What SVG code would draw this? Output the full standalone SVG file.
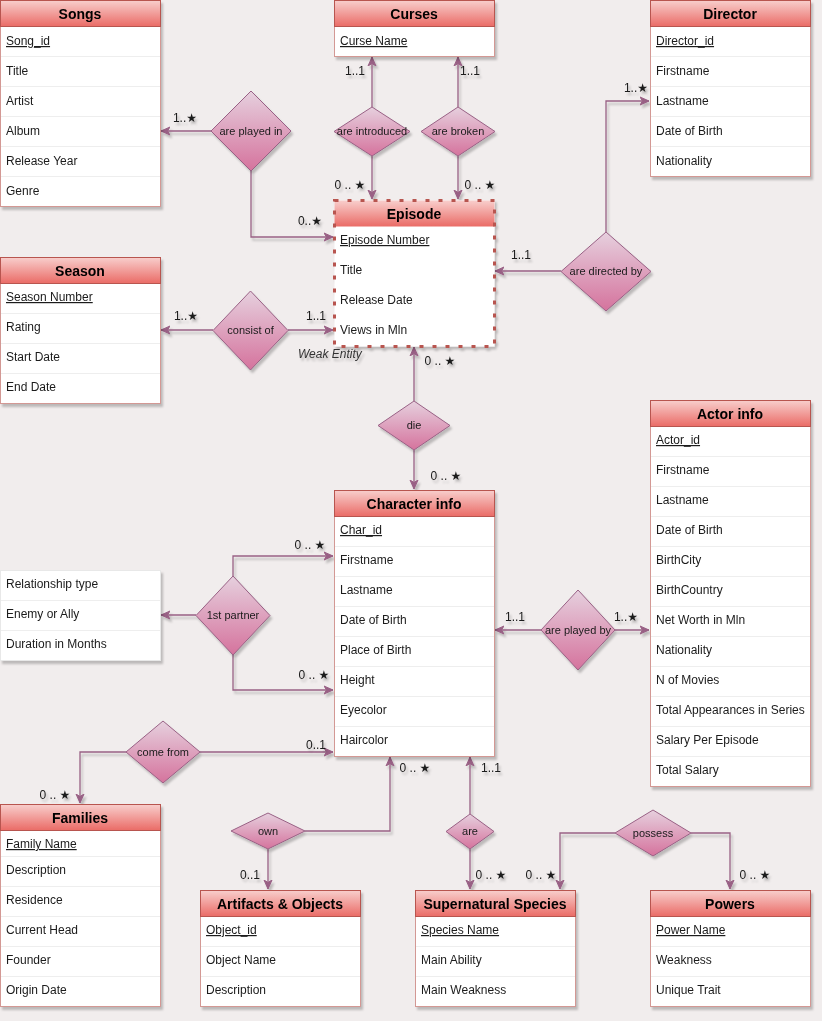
<svg xmlns="http://www.w3.org/2000/svg" width="822" height="1021" viewBox="0 0 822 1021">
<defs>
<linearGradient id="hg" x1="0" y1="0" x2="0" y2="1"><stop offset="0" stop-color="#f8cecc"/><stop offset="1" stop-color="#ea6b66"/></linearGradient>
<linearGradient id="dg" x1="0" y1="0" x2="0" y2="1"><stop offset="0" stop-color="#e6d0de"/><stop offset="1" stop-color="#d5739d"/></linearGradient>
<filter id="sh" x="-10%" y="-10%" width="130%" height="130%"><feDropShadow dx="2" dy="3" stdDeviation="1.3" flood-color="#000" flood-opacity="0.22"/></filter>
<marker id="ar" markerUnits="userSpaceOnUse" markerWidth="10" markerHeight="10" refX="9" refY="5" orient="auto"><path d="M0,1 L9,5 L0,9 L2.5,5 Z" fill="#996185" stroke="#996185" stroke-width="1"/></marker>
</defs>
<style>
.body{fill:#ffffff;stroke:#d39894;stroke-width:1}
.hdr{fill:url(#hg);stroke:#b85450;stroke-width:1}
.ht{font-family:"Liberation Sans",Arial,sans-serif;font-size:14px;font-weight:bold;fill:#000;text-anchor:middle}
.at{font-family:"Liberation Sans",Arial,sans-serif;font-size:12px;fill:#1a1a1a}
.pk{text-decoration:underline}
.sep{stroke:#eeeeee;stroke-width:1}
.dia{fill:url(#dg);stroke:#996185;stroke-width:1}
.dt{font-family:"Liberation Sans",Arial,sans-serif;font-size:11px;fill:#1a1a1a;text-anchor:middle}
.cn{fill:none;stroke:#996185;stroke-width:1.3;marker-end:url(#ar)}
.lb{font-family:"Liberation Sans","DejaVu Sans",Arial,sans-serif;font-size:12px;fill:#1a1a1a;text-anchor:middle}
.it{font-family:"Liberation Sans",Arial,sans-serif;font-size:12px;font-style:italic;fill:#333}
</style>
<rect x="0" y="0" width="822" height="1021" fill="#f1eded"/>

<g id="connectors" filter="url(#sh)">
<path class="cn" d="M211,131 L161,131"/>
<path class="cn" d="M251,171 L251,237 L333,237"/>
<path class="cn" d="M372,107 L372,57"/>
<path class="cn" d="M372,156 L372,199"/>
<path class="cn" d="M458,107 L458,57"/>
<path class="cn" d="M458,156 L458,199"/>
<path class="cn" d="M561,271 L495,271"/>
<path class="cn" d="M606,232 L606,101 L649,101"/>
<path class="cn" d="M213,330 L161,330"/>
<path class="cn" d="M288,330 L333,330"/>
<path class="cn" d="M414,401 L414,347"/>
<path class="cn" d="M414,450 L414,489"/>
<path class="cn" d="M233,576 L233,556 L333,556"/>
<path class="cn" d="M233,655 L233,690 L333,690"/>
<path class="cn" d="M196,615 L161,615"/>
<path class="cn" d="M541,630 L495,630"/>
<path class="cn" d="M615,630 L649,630"/>
<path class="cn" d="M200,752 L333,752"/>
<path class="cn" d="M126,752 L80,752 L80,803"/>
<path class="cn" d="M305,831 L390,831 L390,757"/>
<path class="cn" d="M268,849 L268,889"/>
<path class="cn" d="M470,814 L470,757"/>
<path class="cn" d="M470,849 L470,889"/>
<path class="cn" d="M615,833 L560,833 L560,889"/>
<path class="cn" d="M691,833 L730,833 L730,889"/>
</g>

<g id="songs" filter="url(#sh)">
<rect class="body" x="0.5" y="0.5" width="160" height="206"/>
<rect class="hdr" x="0.5" y="0.5" width="160" height="26"/>
<text class="ht" x="80" y="19">Songs</text>
<line class="sep" x1="1" y1="56.5" x2="160" y2="56.5"/><line class="sep" x1="1" y1="86.5" x2="160" y2="86.5"/><line class="sep" x1="1" y1="116.5" x2="160" y2="116.5"/><line class="sep" x1="1" y1="146.5" x2="160" y2="146.5"/><line class="sep" x1="1" y1="176.5" x2="160" y2="176.5"/>
<text class="at pk" x="6" y="45">Song_id</text>
<text class="at" x="6" y="75">Title</text>
<text class="at" x="6" y="105">Artist</text>
<text class="at" x="6" y="135">Album</text>
<text class="at" x="6" y="165">Release Year</text>
<text class="at" x="6" y="195">Genre</text>
</g>

<g id="curses" filter="url(#sh)">
<rect class="body" x="334.5" y="0.5" width="160" height="56"/>
<rect class="hdr" x="334.5" y="0.5" width="160" height="26"/>
<text class="ht" x="414" y="19">Curses</text>
<text class="at pk" x="340" y="45">Curse Name</text>
</g>

<g id="director" filter="url(#sh)">
<rect class="body" x="650.5" y="0.5" width="160" height="176"/>
<rect class="hdr" x="650.5" y="0.5" width="160" height="26"/>
<text class="ht" x="730" y="19">Director</text>
<line class="sep" x1="651" y1="56.5" x2="810" y2="56.5"/><line class="sep" x1="651" y1="86.5" x2="810" y2="86.5"/><line class="sep" x1="651" y1="116.5" x2="810" y2="116.5"/><line class="sep" x1="651" y1="146.5" x2="810" y2="146.5"/>
<text class="at pk" x="656" y="45">Director_id</text>
<text class="at" x="656" y="75">Firstname</text>
<text class="at" x="656" y="105">Lastname</text>
<text class="at" x="656" y="135">Date of Birth</text>
<text class="at" x="656" y="165">Nationality</text>
</g>

<g id="episode" filter="url(#sh)">
<rect x="334.5" y="200.5" width="160" height="146" fill="#ffffff"/>
<rect x="334.5" y="200.5" width="160" height="26" fill="url(#hg)"/>
<rect x="334.5" y="200.5" width="160" height="146" fill="none" stroke="#b85450" stroke-width="3" stroke-dasharray="4 9"/>
<text class="ht" x="414" y="219">Episode</text>
<text class="at pk" x="340" y="244">Episode Number</text>
<text class="at" x="340" y="274">Title</text>
<text class="at" x="340" y="304">Release Date</text>
<text class="at" x="340" y="334">Views in Mln</text>
<text class="it" x="298" y="358">Weak Entity</text>
</g>

<g id="season" filter="url(#sh)">
<rect class="body" x="0.5" y="257.5" width="160" height="146"/>
<rect class="hdr" x="0.5" y="257.5" width="160" height="26"/>
<text class="ht" x="80" y="276">Season</text>
<line class="sep" x1="1" y1="313.5" x2="160" y2="313.5"/><line class="sep" x1="1" y1="343.5" x2="160" y2="343.5"/><line class="sep" x1="1" y1="373.5" x2="160" y2="373.5"/>
<text class="at pk" x="6" y="301">Season Number</text>
<text class="at" x="6" y="331">Rating</text>
<text class="at" x="6" y="361">Start Date</text>
<text class="at" x="6" y="391">End Date</text>
</g>

<g id="actor-info" filter="url(#sh)">
<rect class="body" x="650.5" y="400.5" width="160" height="386"/>
<rect class="hdr" x="650.5" y="400.5" width="160" height="26"/>
<text class="ht" x="730" y="419">Actor info</text>
<line class="sep" x1="651" y1="456.5" x2="810" y2="456.5"/><line class="sep" x1="651" y1="486.5" x2="810" y2="486.5"/><line class="sep" x1="651" y1="516.5" x2="810" y2="516.5"/><line class="sep" x1="651" y1="546.5" x2="810" y2="546.5"/><line class="sep" x1="651" y1="576.5" x2="810" y2="576.5"/><line class="sep" x1="651" y1="606.5" x2="810" y2="606.5"/><line class="sep" x1="651" y1="636.5" x2="810" y2="636.5"/><line class="sep" x1="651" y1="666.5" x2="810" y2="666.5"/><line class="sep" x1="651" y1="696.5" x2="810" y2="696.5"/><line class="sep" x1="651" y1="726.5" x2="810" y2="726.5"/><line class="sep" x1="651" y1="756.5" x2="810" y2="756.5"/>
<text class="at pk" x="656" y="444">Actor_id</text>
<text class="at" x="656" y="474">Firstname</text>
<text class="at" x="656" y="504">Lastname</text>
<text class="at" x="656" y="534">Date of Birth</text>
<text class="at" x="656" y="564">BirthCity</text>
<text class="at" x="656" y="594">BirthCountry</text>
<text class="at" x="656" y="624">Net Worth in Mln</text>
<text class="at" x="656" y="654">Nationality</text>
<text class="at" x="656" y="684">N of Movies</text>
<text class="at" x="656" y="714">Total Appearances in Series</text>
<text class="at" x="656" y="744">Salary Per Episode</text>
<text class="at" x="656" y="774">Total Salary</text>
</g>

<g id="character-info" filter="url(#sh)">
<rect class="body" x="334.5" y="490.5" width="160" height="266"/>
<rect class="hdr" x="334.5" y="490.5" width="160" height="26"/>
<text class="ht" x="414" y="509">Character info</text>
<line class="sep" x1="335" y1="546.5" x2="494" y2="546.5"/><line class="sep" x1="335" y1="576.5" x2="494" y2="576.5"/><line class="sep" x1="335" y1="606.5" x2="494" y2="606.5"/><line class="sep" x1="335" y1="636.5" x2="494" y2="636.5"/><line class="sep" x1="335" y1="666.5" x2="494" y2="666.5"/><line class="sep" x1="335" y1="696.5" x2="494" y2="696.5"/><line class="sep" x1="335" y1="726.5" x2="494" y2="726.5"/>
<text class="at pk" x="340" y="534">Char_id</text>
<text class="at" x="340" y="564">Firstname</text>
<text class="at" x="340" y="594">Lastname</text>
<text class="at" x="340" y="624">Date of Birth</text>
<text class="at" x="340" y="654">Place of Birth</text>
<text class="at" x="340" y="684">Height</text>
<text class="at" x="340" y="714">Eyecolor</text>
<text class="at" x="340" y="744">Haircolor</text>
</g>

<g id="partner-attributes" filter="url(#sh)">
<rect x="0.5" y="570.5" width="160" height="90" fill="#ffffff" stroke="#e8e8e8" stroke-width="1"/>
<line class="sep" x1="1" y1="600.5" x2="160" y2="600.5"/><line class="sep" x1="1" y1="630.5" x2="160" y2="630.5"/>
<text class="at" x="6" y="588">Relationship type</text>
<text class="at" x="6" y="618">Enemy or Ally</text>
<text class="at" x="6" y="648">Duration in Months</text>
</g>

<g id="families" filter="url(#sh)">
<rect class="body" x="0.5" y="804.5" width="160" height="202"/>
<rect class="hdr" x="0.5" y="804.5" width="160" height="26"/>
<text class="ht" x="80" y="823">Families</text>
<line class="sep" x1="1" y1="856.5" x2="160" y2="856.5"/><line class="sep" x1="1" y1="886.5" x2="160" y2="886.5"/><line class="sep" x1="1" y1="916.5" x2="160" y2="916.5"/><line class="sep" x1="1" y1="946.5" x2="160" y2="946.5"/><line class="sep" x1="1" y1="976.5" x2="160" y2="976.5"/>
<text class="at pk" x="6" y="848">Family Name</text>
<text class="at" x="6" y="874">Description</text>
<text class="at" x="6" y="904">Residence</text>
<text class="at" x="6" y="934">Current Head</text>
<text class="at" x="6" y="964">Founder</text>
<text class="at" x="6" y="994">Origin Date</text>
</g>

<g id="artifacts-objects" filter="url(#sh)">
<rect class="body" x="200.5" y="890.5" width="160" height="116"/>
<rect class="hdr" x="200.5" y="890.5" width="160" height="26"/>
<text class="ht" x="280" y="909">Artifacts &amp; Objects</text>
<line class="sep" x1="201" y1="946.5" x2="360" y2="946.5"/><line class="sep" x1="201" y1="976.5" x2="360" y2="976.5"/>
<text class="at pk" x="206" y="934">Object_id</text>
<text class="at" x="206" y="964">Object Name</text>
<text class="at" x="206" y="994">Description</text>
</g>

<g id="supernatural-species" filter="url(#sh)">
<rect class="body" x="415.5" y="890.5" width="160" height="116"/>
<rect class="hdr" x="415.5" y="890.5" width="160" height="26"/>
<text class="ht" x="495" y="909">Supernatural Species</text>
<line class="sep" x1="416" y1="946.5" x2="575" y2="946.5"/><line class="sep" x1="416" y1="976.5" x2="575" y2="976.5"/>
<text class="at pk" x="421" y="934">Species Name</text>
<text class="at" x="421" y="964">Main Ability</text>
<text class="at" x="421" y="994">Main Weakness</text>
</g>

<g id="powers" filter="url(#sh)">
<rect class="body" x="650.5" y="890.5" width="160" height="116"/>
<rect class="hdr" x="650.5" y="890.5" width="160" height="26"/>
<text class="ht" x="730" y="909">Powers</text>
<line class="sep" x1="651" y1="946.5" x2="810" y2="946.5"/><line class="sep" x1="651" y1="976.5" x2="810" y2="976.5"/>
<text class="at pk" x="656" y="934">Power Name</text>
<text class="at" x="656" y="964">Weakness</text>
<text class="at" x="656" y="994">Unique Trait</text>
</g>

<g id="rel-are-played-in" filter="url(#sh)"><path class="dia" d="M251,91 L291,131 L251,171 L211,131 Z"/><text class="dt" x="251" y="135">are played in</text></g>
<g id="rel-are-introduced" filter="url(#sh)"><path class="dia" d="M372,107 L410,131.5 L372,156 L334,131.5 Z"/><text class="dt" x="372" y="135">are introduced</text></g>
<g id="rel-are-broken" filter="url(#sh)"><path class="dia" d="M458,107 L495,131.5 L458,156 L421,131.5 Z"/><text class="dt" x="458" y="135">are broken</text></g>
<g id="rel-are-directed-by" filter="url(#sh)"><path class="dia" d="M606,232 L651,271.5 L606,311 L561,271.5 Z"/><text class="dt" x="606" y="275">are directed by</text></g>
<g id="rel-consist-of" filter="url(#sh)"><path class="dia" d="M250.5,291 L288,330.5 L250.5,370 L213,330.5 Z"/><text class="dt" x="250.5" y="334">consist of</text></g>
<g id="rel-die" filter="url(#sh)"><path class="dia" d="M414,401 L450,425.5 L414,450 L378,425.5 Z"/><text class="dt" x="414" y="429">die</text></g>
<g id="rel-1st-partner" filter="url(#sh)"><path class="dia" d="M233,576 L270,615.5 L233,655 L196,615.5 Z"/><text class="dt" x="233" y="619">1st partner</text></g>
<g id="rel-are-played-by" filter="url(#sh)"><path class="dia" d="M578,590 L615,630 L578,670 L541,630 Z"/><text class="dt" x="578" y="634">are played by</text></g>
<g id="rel-come-from" filter="url(#sh)"><path class="dia" d="M163,721 L200,752 L163,783 L126,752 Z"/><text class="dt" x="163" y="756">come from</text></g>
<g id="rel-own" filter="url(#sh)"><path class="dia" d="M268,813 L305,831 L268,849 L231,831 Z"/><text class="dt" x="268" y="835">own</text></g>
<g id="rel-are" filter="url(#sh)"><path class="dia" d="M470,814 L494,831.5 L470,849 L446,831.5 Z"/><text class="dt" x="470" y="835">are</text></g>
<g id="rel-possess" filter="url(#sh)"><path class="dia" d="M653,810 L691,833 L653,856 L615,833 Z"/><text class="dt" x="653" y="837">possess</text></g>

<g id="cardinalities" filter="url(#sh)">
<text class="lb" x="185" y="122">1..★</text>
<text class="lb" x="310" y="225">0..★</text>
<text class="lb" x="355" y="75">1..1</text>
<text class="lb" x="470" y="75">1..1</text>
<text class="lb" x="350" y="189">0 .. ★</text>
<text class="lb" x="480" y="189">0 .. ★</text>
<text class="lb" x="636" y="92">1..★</text>
<text class="lb" x="521" y="259">1..1</text>
<text class="lb" x="186" y="320">1..★</text>
<text class="lb" x="316" y="320">1..1</text>
<text class="lb" x="440" y="365">0 .. ★</text>
<text class="lb" x="446" y="480">0 .. ★</text>
<text class="lb" x="310" y="549">0 .. ★</text>
<text class="lb" x="314" y="679">0 .. ★</text>
<text class="lb" x="515" y="621">1..1</text>
<text class="lb" x="626" y="621">1..★</text>
<text class="lb" x="316" y="749">0..1</text>
<text class="lb" x="55" y="799">0 .. ★</text>
<text class="lb" x="415" y="772">0 .. ★</text>
<text class="lb" x="491" y="772">1..1</text>
<text class="lb" x="250" y="879">0..1</text>
<text class="lb" x="491" y="879">0 .. ★</text>
<text class="lb" x="541" y="879">0 .. ★</text>
<text class="lb" x="755" y="879">0 .. ★</text>
</g>
</svg>
